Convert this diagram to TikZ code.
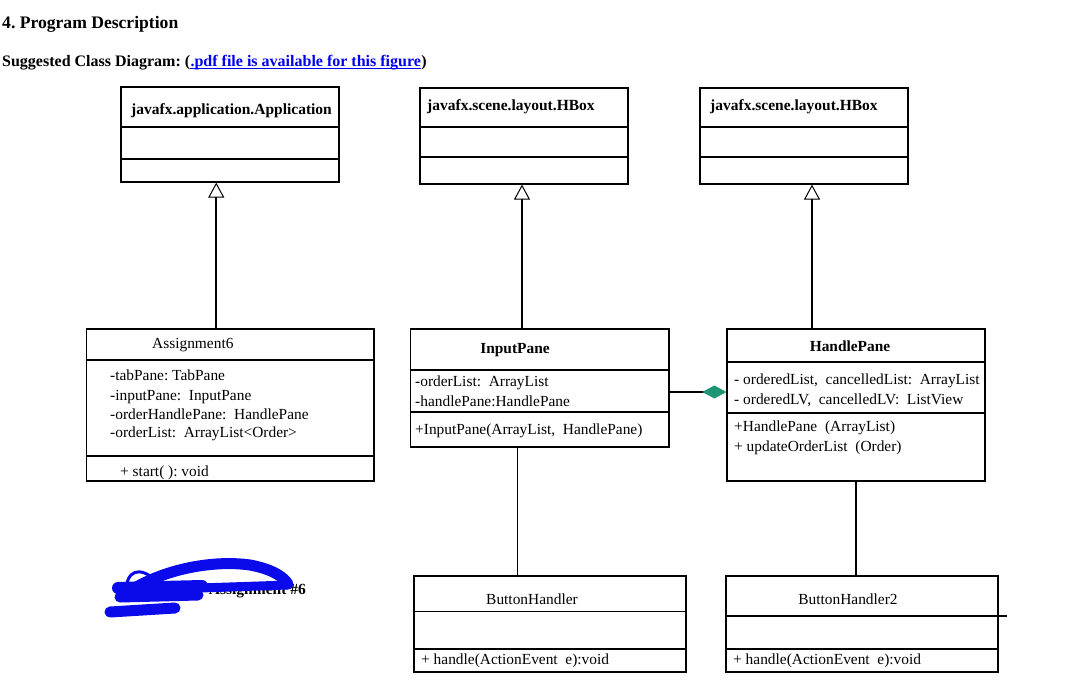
\documentclass[tikz,border=0pt]{standalone}
\usepackage{fontspec}
\setmainfont{Liberation Serif}
\usetikzlibrary{arrows.meta,calc}
\definecolor{linkblue}{RGB}{0,0,238}
\definecolor{scrib}{RGB}{10,10,235}
\definecolor{diam}{RGB}{30,150,115}
\frenchspacing
\begin{document}
\begin{tikzpicture}[x=1pt,y=-1pt,
  box/.style={draw, line width=1.2pt, inner sep=0},
  divider/.style={line width=1.1pt},
  txt/.style={inner sep=0, anchor=base west, font=\fontsize{15.4}{18}\selectfont},
  btxt/.style={inner sep=0, anchor=base west, font=\fontsize{15.5}{18}\selectfont\bfseries},
  ttl/.style={inner sep=0, anchor=base, font=\fontsize{15.4}{18}\selectfont},
  bttl/.style={inner sep=0, anchor=base, font=\fontsize{15.4}{18}\selectfont\bfseries},
  subtxt/.style={inner sep=0, anchor=base west, font=\fontsize{16}{19}\selectfont\bfseries},
  inh/.style={line width=2.4pt, -{Triangle[open,length=15pt,width=16pt,line width=1pt]}},
  comp/.style={line width=2.4pt, -{Diamond[length=24pt,width=13pt,color=diam,fill=diam,line width=0.5pt]}},
  assoc/.style={line width=1.1pt},
  scribble/.style={draw=scrib, line cap=round, line join=round}]
\useasboundingbox (0,0) rectangle (1087,696);

% header
\node[inner sep=0, anchor=base west, font=\fontsize{17.6}{20}\selectfont\bfseries] (hdr) at (2,28) {4. Program Description};
\node[subtxt] (sub1) at (2,66) {Suggested Class Diagram: (};
\node[subtxt, text=linkblue] (lnk) at (sub1.base east) {.pdf file is available for this figure};
\node[subtxt] (sub2) at (lnk.base east) {)};
\draw[linkblue, line width=1pt] ([yshift=-2pt]lnk.base west) -- ([yshift=-2pt]lnk.base east);

% boxes
\node[box, minimum width=218pt, minimum height=95pt] (app) at (230,134.5) {};
\node[box, minimum width=208pt, minimum height=96pt] (hb1) at (524,136) {};
\node[box, minimum width=208pt, minimum height=96pt] (hb2) at (804,136) {};
\node[box, minimum width=287.5pt, minimum height=152pt] (asg) at (230.25,405) {};
\node[box, minimum width=258.5pt, minimum height=118pt] (ip) at (539.75,388) {};
\node[box, minimum width=258pt, minimum height=152pt] (hp) at (856,405) {};
\node[box, minimum width=272pt, minimum height=96pt] (bh) at (550,624) {};
\node[box, minimum width=272pt, minimum height=96pt] (bh2) at (862,624) {};

% dividers
\draw[divider] (app.west |- 0,127) -- (app.east |- 0,127);
\draw[divider] (app.west |- 0,159) -- (app.east |- 0,159);
\draw[divider] (hb1.west |- 0,127) -- (hb1.east |- 0,127);
\draw[divider] (hb1.west |- 0,157) -- (hb1.east |- 0,157);
\draw[divider] (hb2.west |- 0,127) -- (hb2.east |- 0,127);
\draw[divider] (hb2.west |- 0,157) -- (hb2.east |- 0,157);
\draw[divider] (asg.west |- 0,360) -- (asg.east |- 0,360);
\draw[divider] (asg.west |- 0,456) -- (asg.east |- 0,456);
\draw[divider] (ip.west |- 0,370) -- (ip.east |- 0,370);
\draw[divider] (ip.west |- 0,412) -- (ip.east |- 0,412);
\draw[divider] (hp.west |- 0,362) -- (hp.east |- 0,362);
\draw[divider] (hp.west |- 0,413) -- (hp.east |- 0,413);
\draw[divider] (bh.west |- 0,611.5) -- (bh.east |- 0,611.5);
\draw[divider] (bh.west |- 0,649) -- (bh.east |- 0,649);
\draw[divider] (bh2.west |- 0,616) -- (1007,616);
\draw[divider] (bh2.west |- 0,649) -- (bh2.east |- 0,649);

% texts
\node[btxt] (appt) at (131,114) {javafx.application.Application};
\node[btxt] (hb1t) at (427,110) {javafx.scene.layout.HBox};
\node[btxt] (hb2t) at (710,110) {javafx.scene.layout.HBox};

\node[txt] (asgt) at (152,348) {Assignment6};
\node[txt] (asg1) at (110,380) {-tabPane:\ TabPane};
\node[txt] (asg2) at (110,400) {-inputPane:\ \ InputPane};
\node[txt] (asg3) at (110,419) {-orderHandlePane:\ \ HandlePane};
\node[txt] (asg4) at (110,437) {-orderList:\ \ ArrayList<Order>};
\node[txt] (asg5) at (120,476) {+ start(\ ): void};

\node[bttl] (ipt) at (515,353) {InputPane};
\node[txt] (ip1) at (415,386) {-orderList:\ \ ArrayList};
\node[txt] (ip2) at (415,406) {-handlePane:HandlePane};
\node[txt] (ip3) at (415,434) {+InputPane(ArrayList,\ \ HandlePane)};

\node[bttl] (hpt) at (850,351) {HandlePane};
\node[txt] (hp1) at (734,384) {- orderedList,\ \ cancelledList:\ \ ArrayList};
\node[txt] (hp2) at (734,404) {- orderedLV,\ \ cancelledLV:\ \ ListView};
\node[txt] (hp3) at (734,431) {+HandlePane\ \ (ArrayList)};
\node[txt] (hp4) at (734,451) {+ updateOrderList\ \ (Order)};

\node[ttl] (bht) at (532,604) {ButtonHandler};
\node[txt] (bh1) at (421,664) {+ handle(ActionEvent\ \ e):void};
\node[ttl] (bh2t) at (848,604) {ButtonHandler2};
\node[txt] (bh21) at (733,664) {+ handle(ActionEvent\ \ e):void};

% connectors
\coordinate (a1) at ([xshift=-14pt]asg.north);
\draw[inh] (a1) -- (a1 |- app.south);
\coordinate (t1) at ([xshift=-2pt]hb1.south);
\draw[inh] (t1 |- ip.north) -- (t1);
\coordinate (t2) at ([xshift=8pt]hb2.south);
\draw[inh] (t2 |- hp.north) -- (t2);
\coordinate (c1) at ([yshift=-4pt]ip.east);
\draw[comp] (c1) -- (c1 -| hp.west);
\coordinate (d1) at ([xshift=-22pt]ip.south);
\draw[assoc] (d1) -- (d1 |- bh.north);
\draw[assoc] (hp.south) -- (hp.south |- bh2.north);

% scribbled-out label
\node[inner sep=0, anchor=base east, font=\fontsize{15.5}{18}\selectfont\bfseries] (lbl) at (306,594) {Assignment \#6};
\draw[scribble, line width=12pt] (118,588) -- (202,586);
\draw[scribble, line width=11pt] (120,597) -- (198,595);
\draw[scribble, line width=11pt] (110,612) -- (175,608);
\draw[scribble, line width=11pt] (128,592) .. controls (165,568) and (215,560) .. (250,565) .. controls (272,569) and (284,577) .. (288,584);
\draw[scribble, line width=9pt] (200,588) -- (288,585);
\draw[scribble, line width=3pt] (126,592) .. controls (126,570) and (140,566) .. (155,580);
\end{tikzpicture}
\end{document}
